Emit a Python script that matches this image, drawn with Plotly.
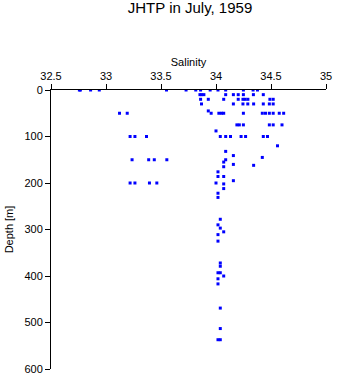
import plotly.graph_objects as go

# JHTP station casts, July 1959: salinity (psu) vs depth (m)
depth = [
    0, 0, 0, 0, 0, 0, 0, 0, 0, 0, 0, 0, 0, 0,
    10, 10, 10, 10, 10, 10, 10, 10, 10,
    20, 20, 20, 20, 20, 20, 20, 20, 20,
    30, 30, 30, 30, 30, 30, 30, 30,
    45,
    50, 50, 50, 50, 50, 50, 50, 50, 50, 50, 50, 50, 50,
    75, 75, 75, 75, 75, 75,
    88,
    100, 100, 100, 100, 100, 100, 100, 100, 100, 100,
    120, 132, 141, 145,
    150, 150, 150, 150, 150,
    155, 160, 162, 165, 176, 186, 186, 195,
    200, 200, 200, 200, 200,
    202, 212, 222, 231,
    278, 290, 297, 305, 311, 325,
    372, 379, 393, 393, 400, 406, 417,
    469, 513, 537, 537,
]

salinity = [
    32.758, 32.767, 32.860, 32.939, 33.550, 33.728, 33.816, 33.860, 33.947, 34.018, 34.088, 34.249, 34.337, 34.377,
    33.854, 33.870, 33.890, 34.088, 34.158, 34.202, 34.249, 34.340, 34.430,
    33.860, 33.930, 34.070, 34.202, 34.245, 34.265, 34.290, 34.490, 34.520,
    33.868, 34.158, 34.245, 34.289, 34.342, 34.430, 34.485, 34.520,
    33.930,
    33.123, 33.193, 33.956, 34.026, 34.050, 34.070, 34.249, 34.421, 34.450, 34.485, 34.520, 34.575, 34.615,
    34.190, 34.212, 34.249, 34.485, 34.520, 34.600,
    34.000,
    33.219, 33.263, 33.368, 34.039, 34.088, 34.132, 34.228, 34.269, 34.430, 34.468,
    34.559, 34.088, 34.158, 34.421,
    33.237, 33.388, 33.439, 33.553, 34.088,
    34.070, 34.158, 34.342, 34.070, 34.018, 34.018, 34.070, 34.158,
    34.000, 33.219, 33.263, 33.395, 33.462,
    34.070, 34.070, 34.018, 34.018,
    34.039, 34.018, 34.039, 34.070, 34.018, 34.018,
    34.039, 34.039, 34.018, 34.039, 34.070, 34.018, 34.018,
    34.039, 34.039, 34.018, 34.039,
]

x_ticks = [32.5, 33, 33.5, 34, 34.5, 35]
x_tick_text = ["32.5", "33", "33.5", "34", "34.5", "35"]
y_ticks = [0, 100, 200, 300, 400, 500, 600]

FONT = "Liberation Sans, Arial, sans-serif"

fig = go.Figure(
    go.Scatter(
        x=salinity,
        y=depth,
        mode="markers",
        marker=dict(symbol="square", size=3, color="#0000ff", line=dict(width=0)),
        hoverinfo="x+y",
    )
)

fig.update_layout(
    width=341,
    height=384,
    margin=dict(l=47, r=9, t=90, b=9),
    paper_bgcolor="white",
    plot_bgcolor="white",
    showlegend=False,
    font=dict(family=FONT, size=11, color="black"),
    title=dict(
        text="JHTP in July, 1959",
        x=190 / 341,
        xanchor="center",
        y=1 - 8 / 384,
        yanchor="middle",
        font=dict(family=FONT, size=15, color="black"),
    ),
)

fig.update_xaxes(
    side="top",
    range=[32.5, 35],
    tickvals=x_ticks,
    ticktext=x_tick_text,
    ticks="outside",
    ticklen=5,
    tickcolor="black",
    showline=True,
    linecolor="black",
    linewidth=1,
    showgrid=False,
    zeroline=False,
    tickfont=dict(size=11),
    title=dict(text="Salinity", font=dict(size=11), standoff=0),
)

fig.update_yaxes(
    range=[600, 0],
    tickvals=y_ticks,
    ticks="outside",
    ticklen=5,
    tickcolor="black",
    showline=True,
    linecolor="black",
    linewidth=1,
    showgrid=False,
    zeroline=False,
    tickfont=dict(size=11),
    title=dict(text="Depth [m]", font=dict(size=11), standoff=8),
)

fig.write_html("out.html")
